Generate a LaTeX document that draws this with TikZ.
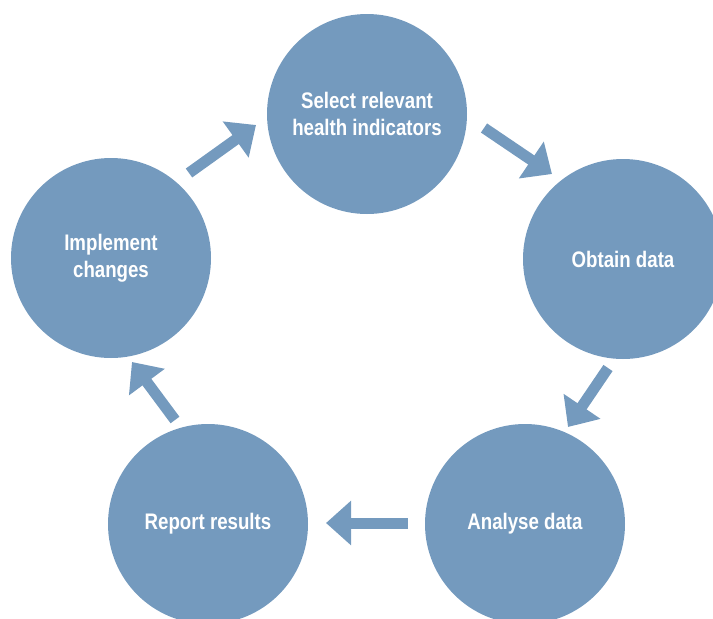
\documentclass[tikz,border=0pt]{standalone}
\usepackage{fontspec}
\setmainfont{Liberation Sans}[FakeStretch=0.83]
\usetikzlibrary{arrows.meta}
\definecolor{stepblue}{RGB}{116,154,190}
\begin{document}
\begin{tikzpicture}[x=1pt,y=-1pt,
  stepcircle/.style={circle, fill=stepblue, minimum size=200pt, inner sep=0pt,
    text=white, align=center, font=\fontsize{22.5}{26.5}\selectfont\bfseries},
  flow/.style={draw=stepblue, line width=11pt,
    -{Triangle[length=25pt,width=43pt]}}]
\useasboundingbox (0,0) rectangle (713,619);
\clip (0,0) rectangle (713,619);
\node[stepcircle] (select) at (367,114) {Select relevant\\health indicators};
\node[stepcircle] (obtain) at (623,259) {Obtain data};
\node[stepcircle] (analyse) at (525,524) {Analyse data};
\node[stepcircle] (report) at (208,524) {Report results};
\node[stepcircle] (implement) at (111,258) {Implement\\changes};
\coordinate (a1s) at (189,173); \coordinate (a1e) at (256,125);
\coordinate (a2s) at (484,128); \coordinate (a2e) at (552,174);
\coordinate (a3s) at (608,368); \coordinate (a3e) at (568,427);
\coordinate (a4s) at (408,523); \coordinate (a4e) at (326,523);
\coordinate (a5s) at (175,420); \coordinate (a5e) at (132,362);
\draw[flow] (a1s) -- (a1e);
\draw[flow] (a2s) -- (a2e);
\draw[flow] (a3s) -- (a3e);
\draw[flow] (a4s) -- (a4e);
\draw[flow] (a5s) -- (a5e);
\end{tikzpicture}
\end{document}
